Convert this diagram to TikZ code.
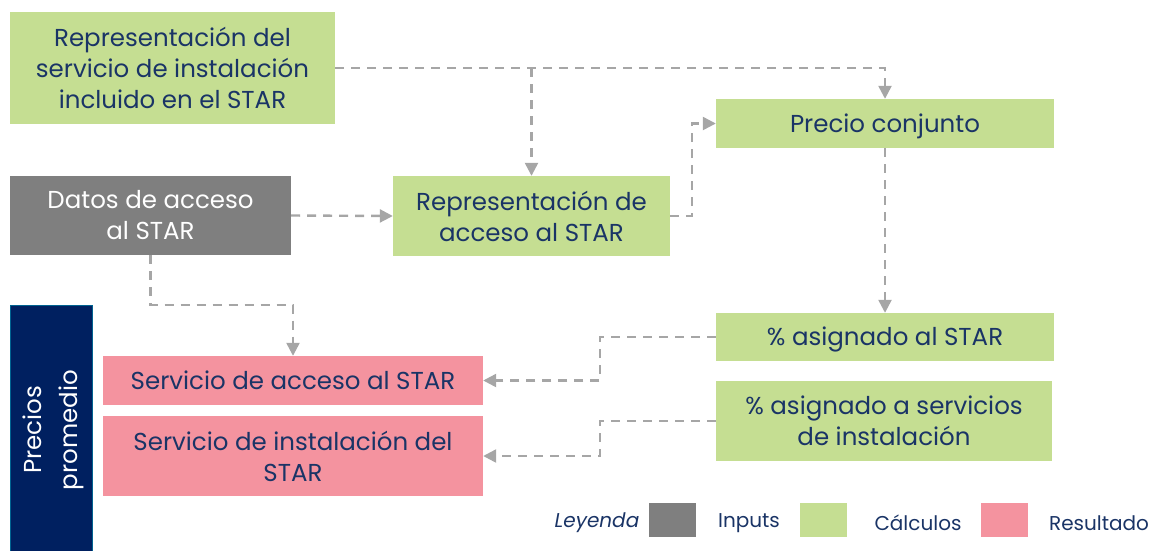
\documentclass[tikz,border=0pt]{standalone}
\usepackage{fontspec}
\setmainfont{Poppins}
\usetikzlibrary{arrows.meta}
\definecolor{grn}{HTML}{C5DE92}
\definecolor{pnk}{HTML}{F4939F}
\definecolor{gry}{HTML}{7F7F7F}
\definecolor{navy}{HTML}{002060}
\definecolor{txt}{HTML}{1A3466}
\definecolor{conncol}{HTML}{A6A6A6}
\tikzset{
  boxbase/.style={draw=none, align=center, inner sep=0pt, text=txt,
    font=\fontsize{24.5}{31}\selectfont},
  calc/.style={boxbase, fill=grn},
  inp/.style={boxbase, fill=gry, text=white},
  res/.style={boxbase, fill=pnk},
  oneline/.style={text height=22pt, text depth=5pt},
  conn/.style={draw=conncol, line width=2.4pt, dash pattern=on 9pt off 7pt,
    -{Triangle[length=13pt,width=13pt]}},
  legtext/.style={text=txt, font=\fontsize{20}{24}\selectfont, inner sep=0pt},
  legbox/.style={minimum width=47pt, minimum height=34pt, inner sep=0pt}
}
\begin{document}
\begin{tikzpicture}[x=1pt,y=-1pt]
\useasboundingbox (0,0) rectangle (1158,550);
% boxes
\node[calc, minimum width=325pt, minimum height=112pt] (b1) at (172.5,68)
  {Representación del\\servicio de instalación\\incluido en el STAR};
\node[inp, minimum width=281pt, minimum height=79pt] (datos) at (150.5,215.5)
  {Datos de acceso\\al STAR};
\node[calc, minimum width=277pt, minimum height=80pt] (rep) at (531.5,216)
  {Representación de\\acceso al STAR};
\node[calc, oneline, minimum width=338pt, minimum height=49pt] (precio) at (885,123.5)
  {Precio conjunto};
\node[calc, oneline, minimum width=338pt, minimum height=48pt] (asig) at (885,337)
  {\% asignado al STAR};
\node[calc, minimum width=336pt, minimum height=80pt] (asig2) at (884,421)
  {\% asignado a servicios\\de instalación};
\node[fill=navy, draw=navy!70!cyan, line width=0.6pt, minimum width=82pt, minimum height=246pt, inner sep=0pt] (bar) at (51,428) {};
\node[text=white, align=center, rotate=90, font=\fontsize{24.5}{36}\selectfont, inner sep=0pt] (bartext) at (53,430) {Precios\\promedio};
\node[res, minimum width=380pt, minimum height=49pt] (p1) at (293,380.5)
  {Servicio de acceso al STAR};
\node[res, minimum width=380pt, minimum height=80pt] (p2) at (293,456)
  {Servicio de instalación del\\STAR};
% connectors
\draw[conn] (b1.east) -| (precio.north);
\draw[conn] (b1.east -| rep.north) -- (rep.north);
\draw[conn] (datos.east) -- (rep.west);
\draw[conn] (rep.east) -- ++(22,0) |- (precio.west);
\draw[conn] (precio.south) -- (asig.north);
\draw[conn] (datos.south) -- ++(0,50) -| (p1.north);
\draw[conn] (asig.west) -- ++(-116,0) |- (p1.east);
\draw[conn] (asig2.west) -- ++(-116,0) |- (p2.east);
% legend
\node[legtext, font=\fontsize{20}{24}\itshape] (leg) at (597,523) {Leyenda};
\node[legbox, fill=gry] (lg1) at (672,520) {};
\node[legtext] (lt1) at (749,523) {Inputs};
\node[legbox, fill=grn] (lg2) at (823,520) {};
\node[legtext] (lt2) at (918,523) {Cálculos};
\node[legbox, fill=pnk] (lg3) at (1004,520) {};
\node[legtext] (lt3) at (1099,523) {Resultado};
\end{tikzpicture}
\end{document}
